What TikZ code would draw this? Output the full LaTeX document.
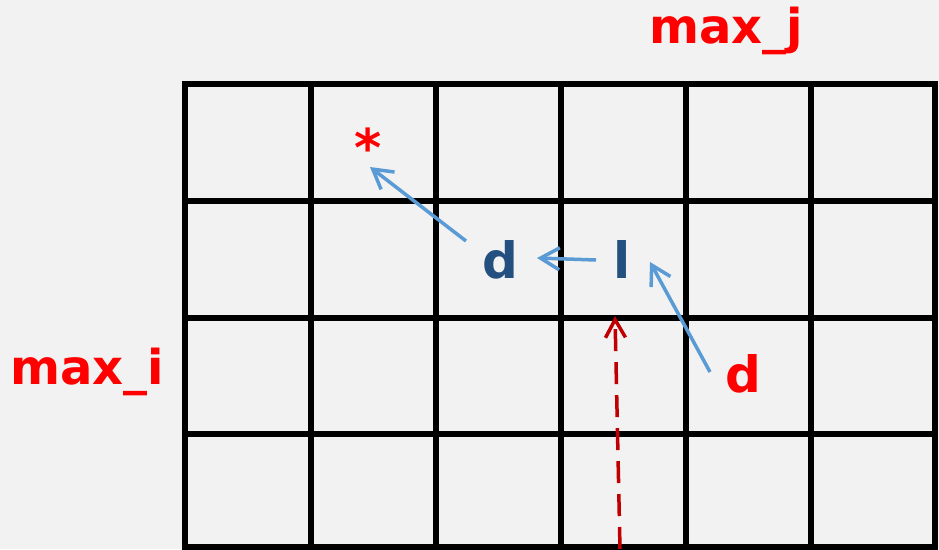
\documentclass[tikz,border=0pt]{standalone}
\usepackage{fontspec}
\setmainfont{DejaVu Sans}
\usetikzlibrary{arrows.meta}
\definecolor{bgc}{HTML}{F2F2F2}
\definecolor{redlab}{HTML}{FF0000}
\definecolor{bluelab}{HTML}{24507F}
\definecolor{bluearr}{HTML}{5B9BD5}
\definecolor{redarr}{HTML}{C00000}
\begin{document}
\begin{tikzpicture}[x=1pt,y=-1pt,
  gridline/.style={line width=6pt,black,line cap=rect},
  lab/.style={font=\fontsize{48}{54}\bfseries\selectfont,inner sep=0pt,anchor=base},
  redtext/.style={lab,text=redlab},
  bluetext/.style={lab,text=bluelab,font=\fontsize{50}{56}\bfseries\selectfont},
  bluearrow/.style={line width=3.5pt,bluearr,-{Straight Barb[length=19pt,width=22pt,line width=3.5pt]}},
  redarrow/.style={line width=3.5pt,redarr,dash pattern=on 22pt off 11pt,-{Straight Barb[length=18pt,width=20pt,line width=3.5pt]}}
]
\useasboundingbox (0,0) rectangle (939,549);
\fill[bgc] (0,0) rectangle (939,549);
% grid
\foreach \x in {185,311,436,561,686,811,935} \draw[gridline] (\x,84) -- (\x,547);
\foreach \y in {84,201,318,434,547} \draw[gridline] (185,\y) -- (935,\y);
% labels
\node[redtext] (maxj) at (726,43) {max\_j};
\node[redtext] (maxi) at (87,384) {max\_i};
\node[redtext,anchor=center,font=\fontsize{52}{52}\bfseries\selectfont] (star) at (368,147) {*};
\node[bluetext] (d1) at (500,278) {d};
\node[bluetext] (l1) at (622,278) {l};
\node[redtext,font=\fontsize{50}{56}\bfseries\selectfont] (d2) at (743,392) {d};
% connector endpoints
\coordinate (a1s) at (466,241);
\coordinate (a1e) at (370,167);
\coordinate (a2s) at (596,260);
\coordinate (a2e) at (537,258);
\coordinate (a3s) at (710,372);
\coordinate (a3e) at (650,262);
\coordinate (r1s) at (620,549);
\coordinate (r1e) at (615,316);
\draw[bluearrow] (a1s) -- (a1e);
\draw[bluearrow] (a2s) -- (a2e);
\draw[bluearrow] (a3s) -- (a3e);
\draw[redarrow] (r1s) -- (r1e);
\end{tikzpicture}
\end{document}
